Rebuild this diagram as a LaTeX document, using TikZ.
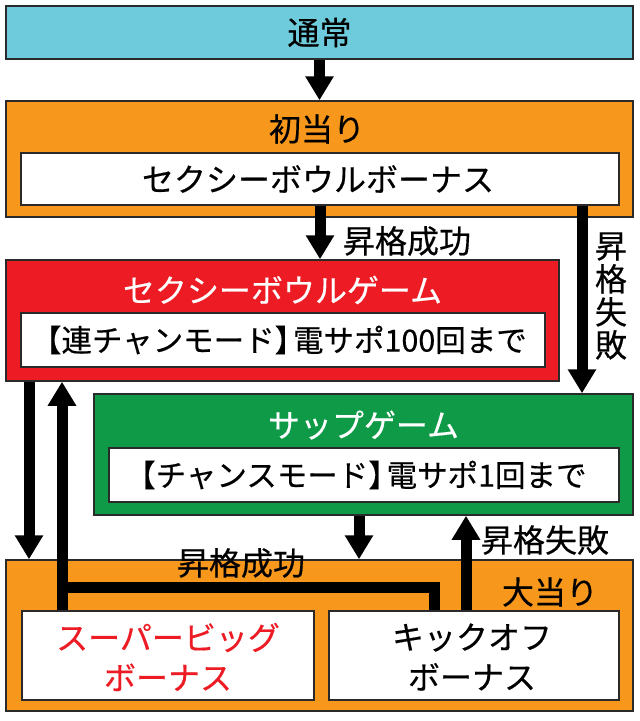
\documentclass[tikz,border=0pt]{standalone}
\usepackage{fontspec}
\setmainfont{Noto Sans CJK JP}[FakeBold=0.4]
\usetikzlibrary{arrows.meta}
\definecolor{cyanbox}{HTML}{6DCBDC}
\definecolor{orangebox}{HTML}{F7981D}
\definecolor{redbox}{HTML}{ED1C24}
\definecolor{greenbox}{HTML}{0F9A48}
\definecolor{edge}{HTML}{2A2A2A}
\newcommand{\lbr}{\kern-.5em【}
\newcommand{\rbr}{】\kern-.4em}
\begin{document}
\begin{tikzpicture}[x=1pt,y=-1pt,
  box/.style={draw=edge, line width=1.5pt, inner sep=0pt, anchor=center},
  lbl/.style={font=\fontsize{32}{33}\selectfont, inner sep=0pt, anchor=center},
  mixed/.style={font=\fontsize{30.5}{33}\selectfont, inner sep=0pt, anchor=center},
  flow/.style={line width=11pt, line join=miter, -{Triangle[width=27pt,length=24pt]}},
  bar/.style={line width=11pt}]
\useasboundingbox (0,0) rectangle (640,721);
% boxes
\node[box, fill=cyanbox, minimum width=627pt, minimum height=53pt] (tsujo) at (319.5,32.5) {};
\node[lbl] (tsujoT) at (319.5,32.5) {通常};
\node[box, fill=orangebox, minimum width=627pt, minimum height=116pt] (hatsu) at (319.5,159) {};
\node[lbl] (hatsuT) at (317,129) {初当り};
\node[box, fill=white, minimum width=598pt, minimum height=52pt] (sexybonus) at (320,179) {};
\node[lbl] (sexybonusT) at (318,179) {セクシーボウルボーナス};
\node[box, fill=redbox, minimum width=553pt, minimum height=121pt] (redgame) at (282.5,320.5) {};
\node[lbl, text=white] (redgameT) at (282.5,290) {セクシーボウルゲーム};
\node[box, fill=white, minimum width=524pt, minimum height=54pt] (renchan) at (283,340) {};
\node[mixed] (renchanT) at (286.5,340) {\lbr 連チャンモード\rbr 電サポ100回まで};
\node[box, fill=greenbox, minimum width=539pt, minimum height=121pt] (greengame) at (363.5,454.5) {};
\node[lbl, text=white] (greengameT) at (363.5,425) {サップゲーム};
\node[box, fill=white, minimum width=510pt, minimum height=54pt] (chance) at (364,475) {};
\node[mixed] (chanceT) at (363.5,475) {\lbr チャンスモード\rbr 電サポ1回まで};
\node[box, fill=orangebox, minimum width=627pt, minimum height=151pt] (oatari) at (319.5,635.5) {};
\node[lbl] (oatariT) at (550,592) {大当り};
\node[box, fill=white, minimum width=292pt, minimum height=89pt] (superbig) at (168,655.5) {};
\node[lbl, align=center, text=redbox, font=\fontsize{32}{40}\selectfont] (superbigT) at (168,657) {スーパービッグ\\ボーナス};
\node[box, fill=white, minimum width=290pt, minimum height=89pt] (kickoff) at (474,655.5) {};
\node[lbl, align=center, font=\fontsize{32}{40}\selectfont] (kickoffT) at (472,657) {キックオフ\\ボーナス};
% columns
\coordinate (xR) at (582,0);
\coordinate (xL1) at (29,0);
\coordinate (hj) at (62,587.5);
\coordinate (xH) at (434,0);
\coordinate (xG) at (359,0);
\coordinate (xK) at (466,0);
% connectors
\draw[flow] (tsujo.south) -- (hatsu.north);
\draw[flow] (sexybonus.south) -- (sexybonus.south |- redgame.north);
\node[lbl] (up1) at (407,241) {昇格成功};
\draw[flow] (sexybonus.south -| xR) -- (greengame.north -| xR);
\node[lbl, align=center] (fail1) at (611,296) {昇\\格\\失\\敗};
\draw[flow] (redgame.south -| xL1) -- (oatari.north -| xL1);
\draw[bar] (superbig.north -| hj) -- (hj);
\draw[flow] (kickoff.north -| xH) |- (hj) -- (redgame.south -| hj);
\node[lbl] (up2) at (241,563) {昇格成功};
\draw[flow] (greengame.south -| xG) -- (oatari.north -| xG);
\draw[flow] (kickoff.north -| xK) -- (greengame.south -| xK);
\node[lbl] (fail2) at (545,540) {昇格失敗};
\end{tikzpicture}
\end{document}
